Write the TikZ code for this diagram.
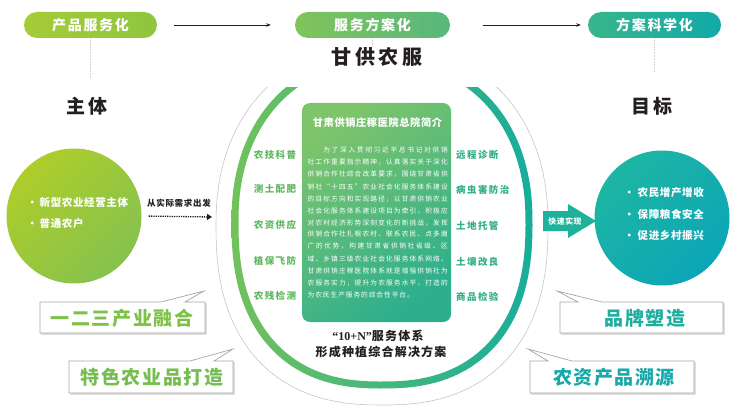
\documentclass[tikz,border=0pt]{standalone}
\usepackage{fontspec}
\setmainfont{Noto Sans CJK SC}
\newfontfamily\serifnum{Liberation Serif}
\usetikzlibrary{arrows.meta}
\definecolor{pA1}{HTML}{A6CB36}\definecolor{pA2}{HTML}{8EC63F}
\definecolor{pB1}{HTML}{80C45A}\definecolor{pB2}{HTML}{58B77C}
\definecolor{pC1}{HTML}{38B68B}\definecolor{pC2}{HTML}{12A9A9}
\definecolor{lcA}{HTML}{AECD2A}\definecolor{lcB}{HTML}{86C24F}
\definecolor{rcA}{HTML}{1DB6A2}\definecolor{rcB}{HTML}{0CA5B8}
\definecolor{ringL}{HTML}{72C15C}\definecolor{ringR}{HTML}{17AD9B}
\definecolor{boxA}{HTML}{7DC46B}\definecolor{boxB}{HTML}{2DAF8D}
\definecolor{labL}{HTML}{5DB85E}\definecolor{labR}{HTML}{2FAF84}
\definecolor{fatA}{HTML}{1FB29B}
\definecolor{cG1}{HTML}{7DC247}\definecolor{cG2}{HTML}{74BE4F}
\definecolor{cT1}{HTML}{1FAEA0}\definecolor{cT2}{HTML}{18A9AA}
\definecolor{ink}{HTML}{231F20}
\newcommand\ls[1]{\addfontfeatures{LetterSpace=#1}}
\newcommand\fs[1]{\fontsize{#1}{#1}\selectfont}
\def\sprfirst#1{#1\sprrest}
\def\sprrest#1{\ifx\relax#1\else\hfil#1\expandafter\sprrest\fi}
\newcommand\spl[1]{\hbox to 140pt{\sprfirst#1\relax}}
\newcommand\spli[1]{\hbox to 140pt{\hspace{15.6pt}\sprfirst#1\relax}}
\newcommand\splw[2]{\hbox to #1{\sprfirst#2\relax\hfil}}
% superellipse: center x, center y, a, b (rounder upper half, squarer lower half)
\newcommand\sellipse[4]{plot[domain=0.5:360.5, samples=145, variable=\t]
  ({#1+#3*sign(cos(\t))*pow(abs(cos(\t)),(sin(\t)<0 ? 0.909 : 0.8333))},
   {#2+#4*sign(sin(\t))*pow(abs(sin(\t)),(sin(\t)<0 ? 0.909 : 0.8333))}) -- cycle}
\begin{document}
\begin{tikzpicture}[x=1pt,y=-1pt,
  pill/.style={rounded corners=13pt, minimum width=133pt, minimum height=26pt, inner sep=0pt, text=white, font=\fs{14}\bfseries\ls{12}},
  toparrow/.style={draw=ink, line width=0.7pt, -{Stealth[length=4.5pt,width=3.5pt]}},
  vline/.style={draw=gray!35, line width=0.5pt, densely dotted},
  head/.style={font=\fs{19}\bfseries\ls{15}, text=ink, inner sep=0pt},
  bul/.style={anchor=west, text=white, font=\fs{10.5}\bfseries\ls{6}, inner sep=0pt},
  labl/.style={text=labL, font=\fs{9.5}\bfseries\ls{15}, inner sep=0pt},
  labr/.style={anchor=west, text=labR, font=\fs{9.5}\bfseries\ls{15}, inner sep=0pt},
  callout/.style={draw=gray!70, line width=0.7pt, fill=white},
  callshadow/.style={draw=gray!25, line width=1.2pt},
  ctext/.style={font=\fs{19}\bfseries\ls{8}, inner sep=0pt},
  dotarrow/.style={draw=ink, line width=1.3pt, densely dotted, -{Triangle[length=5pt,width=6pt]}}
]
\useasboundingbox (0,0) rectangle (741,417);

% top pills
\node[pill, left color=pA1, right color=pA2] (p1) at (90.5,25) {产品服务化};
\node[pill, left color=pB1, right color=pB2, minimum width=155pt] (p2) at (372.5,25) {服务方案化};
\node[pill, left color=pC1, right color=pC2] (p3) at (654.5,25) {方案科学化};
\draw[toparrow, shorten <=17pt, shorten >=24pt] (p1) -- (p2);
\draw[toparrow, shorten <=33pt, shorten >=7pt] (p2) -- (p3);
\coordinate (v1) at (90.5,78);
\coordinate (v2) at (372.5,46);
\coordinate (v3) at (654.5,72);
\draw[vline] (p1) -- (v1);
\draw[vline] (p2) -- (v2);
\draw[vline] (p3) -- (v3);

\node[head, font=\fs{20}\bfseries\ls{18}] (brand) at (377,57) {甘供农服};
\node[head] (zt) at (87,106) {主体};
\node[head] (mb) at (652,106) {目标};

% central rings
\begin{scope}
  \clip (0,88) rectangle (741,417);
  \draw[gray!45, line width=0.6pt] \sellipse{382}{225}{166}{180};
  \shade[left color=ringL, right color=ringR, even odd rule]
    \sellipse{382}{222}{150.5}{166.5} \sellipse{382}{222}{143.5}{159.5};
\end{scope}

% intro box
\node[rounded corners=8pt, minimum width=149pt, minimum height=219pt, inner sep=0pt,
      top color=boxA, bottom color=boxB, shading angle=35] (intro) at (376.5,212.5) {};
\node[text=white, font=\fs{10.2}\bfseries\ls{6}, inner sep=0pt] (introt) at (377.5,123) {甘肃供销庄稼医院总院简介};
\node[anchor=base west, inner sep=0pt, text=white, font=\fs{6.7}] (body) at (307.5,153) {\vtop{\baselineskip=12pt
\spli{为了深入贯彻习近平总书记对供销}
\spl{社工作重要指示精神，认真落实关于深化}
\spl{供销合作社综合改革要求，围绕甘肃省供}
\spl{销社“十四五”农业社会化服务体系建设}
\spl{的目标方向和实现路径，以甘肃供销农业}
\spl{社会化服务体系建设项目为牵引，积极应}
\spl{对农村经济形势深刻变化的新挑战，发挥}
\spl{供销合作社扎根农村、联系农民、点多面}
\spl{广的优势，构建甘肃省供销社省级、区}
\spl{域、乡镇三级农业社会化服务体系网络。}
\spl{甘肃供销庄稼医院体系就是增强供销社为}
\spl{农服务实力，提升为农服务水平，打造的}
\splw{107pt}{为农民生产服务的综合性平台。}}};

% ring labels
\node[labl] (l1) at (275,155) {农技科普};
\node[labl] (l2) at (275,189) {测土配肥};
\node[labl] (l3) at (275,225) {农资供应};
\node[labl] (l4) at (275,261) {植保飞防};
\node[labl] (l5) at (275,296) {农残检测};
\node[labr] (r1) at (456,155) {远程诊断};
\node[labr] (r2) at (456,190) {病虫害防治};
\node[labr] (r3) at (456,226) {土地托管};
\node[labr] (r4) at (456,262) {土壤改良};
\node[labr] (r5) at (456,297) {商品检验};

\node[text=ink, font=\fs{12}\bfseries\ls{10}, inner sep=0pt] (sys1) at (378,336) {{\serifnum\bfseries “10+N”}服务体系};
\node[text=ink, font=\fs{12}\bfseries\ls{10}, inner sep=0pt] (sys2) at (381,352) {形成种植综合解决方案};

% left circle
\node[circle, minimum size=135pt, inner sep=0pt, top color=lcA, bottom color=lcB, shading angle=45] (lc) at (74,216) {};
\node[bul] (lb1) at (27,202) {•\hspace{2pt}新型农业经营主体};
\node[bul] (lb2) at (27,224) {•\hspace{2pt}普通农户};
\node[text=ink, font=\fs{8.5}\bfseries\ls{8}, inner sep=0pt] (need) at (179,203) {从实际需求出发};
\coordinate (na) at (212,217);
\draw[dotarrow, shorten <=7pt] (lc.east) -- (na);

% right circle
\node[circle, minimum size=135pt, inner sep=0pt, top color=rcA, bottom color=rcB, shading angle=45] (rc) at (662,218) {};
\node[bul] (rb1) at (624,193) {•\hspace{3pt}农民增产增收};
\node[bul] (rb2) at (624,214) {•\hspace{3pt}保障粮食安全};
\node[bul] (rb3) at (624,235) {•\hspace{3pt}促进乡村振兴};

% fat arrow
\fill[fatA] (543,211) -- (568,211) -- (568,204) -- (596,221) -- (568,238) -- (568,231) -- (543,231) -- cycle;
\node[text=white, font=\fs{7.8}\bfseries\ls{8}, inner sep=0pt] (fast) at (565,221) {快速实现};

% callouts
\draw[callshadow] (41,334) -- (206,334) -- (206,303);
\draw[callout] (40,302) -- (161,302) -- (204,291) -- (185,302) -- (205,302) -- (205,333) -- (40,333) -- cycle;
\draw[callshadow] (70,394) -- (234,394) -- (234,362);
\draw[callout] (69,361) -- (190,361) -- (233,349) -- (214,361) -- (233,361) -- (233,393) -- (69,393) -- cycle;
\draw[callshadow] (561,334) -- (724,334) -- (724,303);
\draw[callout] (560,302) -- (578,302) -- (557,291) -- (602,302) -- (723,302) -- (723,333) -- (560,333) -- cycle;
\draw[callshadow] (531,394) -- (695,394) -- (695,362);
\draw[callout] (530,361) -- (548,361) -- (528,349) -- (572,361) -- (694,361) -- (694,393) -- (530,393) -- cycle;
\node[ctext, text=cG1] (c1) at (122,318) {一二三产业融合};
\node[ctext, text=cG2] (c2) at (152,377) {特色农业品打造};
\node[ctext, text=cT1] (c3) at (645,318) {品牌塑造};
\node[ctext, text=cT2] (c4) at (614,377) {农资产品溯源};
\end{tikzpicture}
\end{document}
